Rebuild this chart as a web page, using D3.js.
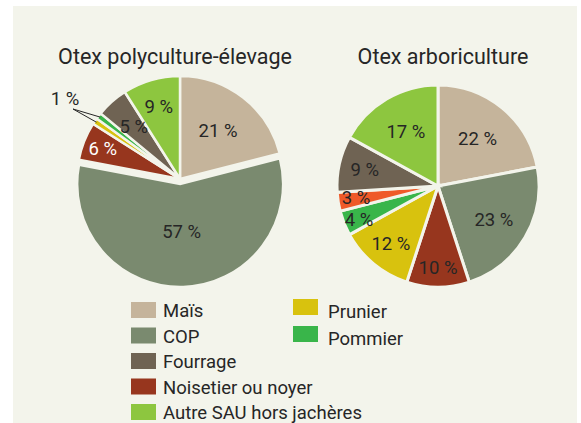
<!DOCTYPE html>
<html><head><meta charset="utf-8">
<script src="https://cdn.jsdelivr.net/npm/d3@7"></script>
<style>
html,body{margin:0;padding:0;background:#fff;}
svg{display:block;font-family:Roboto,"Noto Sans",sans-serif;}
</style></head>
<body>
<svg id="c" width="581" height="423"></svg>
<script>
// ---- data ----
const categories = ["Maïs","COP","Noisetier ou noyer","Prunier","Pommier","Autre arbo","Fourrage","Autre SAU hors jachères"];
const colors = ["#C5B49B","#7A8A6F","#97361E","#D8C20E","#39B54A","#EF5A29","#6F6353","#8DC63F"];
const titles = ["Otex polyculture-élevage","Otex arboriculture"];
const polyValues = [21,57,6,1,1,0,5,9];
const arboValues = [22,23,10,12,4,3,9,17];
const polyLabels = ["21 %","57 %","6 %","","","","5 %","9 %"];
const arboLabels = ["22 %","23 %","10 %","12 %","4 %","3 %","9 %","17 %"];
const legendLeft = ["Maïs","COP","Fourrage","Noisetier ou noyer","Autre SAU hors jachères"];
const legendRight = ["Prunier","Pommier"];

// ---- layout / style ----
const bg = "#F3F4EB";
const ink = "#262626";
const svg = d3.select("#c");
svg.append("rect").attr("x",13).attr("y",6).attr("width",564).attr("height",417).attr("fill",bg);

const color = d3.scaleOrdinal().domain(categories).range(colors);
const pie = d3.pie().sort(null).value(d=>d.v);

function drawPie(cfg){
  const data = categories.map((c,i)=>({c, v:cfg.values[i], label:cfg.labels[i]}));
  const arcs = pie(data);
  const arc = d3.arc().innerRadius(0).outerRadius(cfg.r);
  const g = svg.append("g").attr("transform",`translate(${cfg.cx},${cfg.cy})`);
  g.selectAll("path").data(arcs.filter(a=>a.data.v>0)).join("path")
    .attr("d",arc)
    .attr("fill",a=>color(a.data.c))
    .attr("stroke",bg).attr("stroke-width",cfg.sw)
    .attr("stroke-linejoin","miter")
    .attr("transform",a=>{
      const off = (cfg.explode[a.data.c]||0);
      const m=(a.startAngle+a.endAngle)/2;
      return `translate(${off*Math.sin(m)},${-off*Math.cos(m)})`;
    });
  g.selectAll("text.lbl").data(arcs.filter(a=>a.data.label)).join("text")
    .attr("class","lbl")
    .attr("x",a=>{const m=(a.startAngle+a.endAngle)/2; return cfg.lr[a.data.c]*Math.sin(m);})
    .attr("y",a=>{const m=(a.startAngle+a.endAngle)/2; return -cfg.lr[a.data.c]*Math.cos(m)+(cfg.nudge[a.data.c]||0);})
    .attr("dy","0.36em")
    .attr("text-anchor","middle")
    .attr("font-size",18.5)
    .attr("fill",a=>cfg.white&&cfg.white.includes(a.data.c)?"#fff":ink)
    .text(a=>a.data.label);
  svg.append("text").attr("x",cfg.tx).attr("y",cfg.ty)
    .attr("text-anchor","middle").attr("font-size",21.5).attr("fill",ink)
    .text(cfg.title);
  return {g, arcs, arc};
}

const p1 = drawPie({cx:180,cy:179,r:103,sw:2.5,values:polyValues,labels:polyLabels,
  explode:{"COP":5}, white:["Noisetier ou noyer"], nudge:{},
  lr:{"Maïs":62,"COP":52,"Noisetier ou noyer":83,"Fourrage":70,"Autre SAU hors jachères":76},
  tx:175,ty:64,title:titles[0]});

// leader lines for the two 1 % slices
const small = p1.arcs.filter(a=>a.data.c==="Prunier"||a.data.c==="Pommier");
small.forEach(a=>{
  const m=(a.startAngle+a.endAngle)/2, rr=101;
  p1.g.append("line").attr("x1",73-180).attr("y1",109-179)
    .attr("x2",rr*Math.sin(m)).attr("y2",-rr*Math.cos(m))
    .attr("stroke",ink).attr("stroke-width",1);
});
svg.append("text").attr("x",65).attr("y",98).attr("dy","0.36em").attr("text-anchor","middle")
  .attr("font-size",18.5).attr("fill",ink).text("1 %");

drawPie({cx:438,cy:186,r:101,sw:3,values:arboValues,labels:arboLabels,
  explode:{}, white:[], nudge:{"Autre arbo":-2,"Pommier":2},
  lr:{"Maïs":62,"COP":65,"Noisetier ou noyer":81,"Prunier":74,"Pommier":85,"Autre arbo":83,"Fourrage":75,"Autre SAU hors jachères":63},
  tx:443,ty:64,title:titles[1]});

// legend
const leg = svg.append("g");
legendLeft.forEach((c,i)=>{
  const y = 302 + i*25.5;
  leg.append("rect").attr("x",131).attr("y",y).attr("width",25).attr("height",16).attr("fill",color(c));
  leg.append("text").attr("x",163).attr("y",y+8.5).attr("dy","0.36em").attr("font-size",18.5).attr("fill",ink).text(c);
});
legendRight.forEach((c,i)=>{
  const y = 299 + i*27;
  leg.append("rect").attr("x",293).attr("y",y).attr("width",25).attr("height",16).attr("fill",color(c));
  leg.append("text").attr("x",328).attr("y",y+12).attr("dy","0.36em").attr("font-size",18.5).attr("fill",ink).text(c);
});
</script>
</body></html>
